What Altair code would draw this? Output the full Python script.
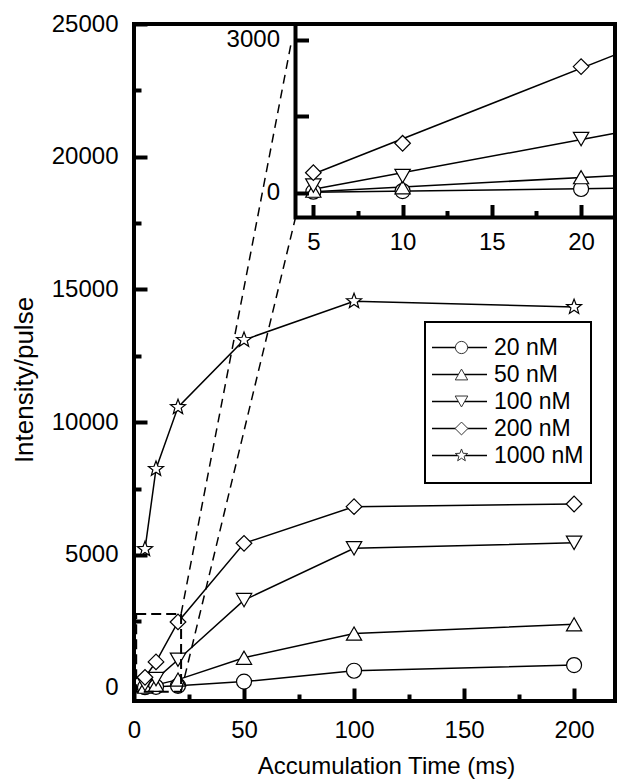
import altair as alt
import pandas as pd

# ---------------- data ----------------
TIMES = [5, 10, 20, 50, 100, 200]
SERIES = ["20 nM", "50 nM", "100 nM", "200 nM", "1000 nM"]
I_20 = [20, 33, 73, 230, 640, 855]
I_50 = [40, 108, 305, 1130, 2040, 2390]
I_100 = [140, 328, 1054, 3300, 5250, 5460]
I_200 = [393, 971, 2477, 5440, 6820, 6920]
I_1000 = [5220, 8240, 10570, 13100, 14560, 14340]

INSET_TIMES = [5, 10, 20]
INSET_SERIES = ["20 nM", "50 nM", "100 nM", "200 nM"]
FIT_X = [5, 21.9]
FIT_20 = [8, 86]
FIT_50 = [20, 334]
FIT_100 = [66, 1168]
FIT_200 = [367, 2707]

ZOOM_X = [1, 21.4]
ZOOM_Y = [-150, 2780]
LINK_TOP_X = [21.4, 71.7]
LINK_TOP_Y = [2780, 24400]
LINK_BOT_X = [21.4, 73.4]
LINK_BOT_Y = [-150, 17710]

MAIN_X_TICKS = [0, 50, 100, 150, 200]
MAIN_X_MINOR = [25, 75, 125, 175]
MAIN_Y_TICKS = [0, 5000, 10000, 15000, 20000, 25000]
MAIN_Y_MINOR = [2500, 7500, 12500, 17500, 22500]
INSET_X_TICKS = [5, 10, 15, 20]
INSET_X_MINOR = [7.5, 12.5, 17.5]
INSET_Y_LABELS = [0, 3000]
INSET_Y_TICKS = [0, 1500, 3000]

MAIN_X_DOMAIN = [0, 218.6]
MAIN_Y_DOMAIN = [-500, 25000]
INSET_X_DOMAIN = [4, 21.9]
INSET_Y_DOMAIN = [-487, 3314]

# ---------------- layout / style ----------------
W, H = 481, 677
INSET_X_RANGE = [161.5, 481]
INSET_Y_RANGE = [193.5, 0]
FONT = "Liberation Sans"

# legend box geometry (pixels inside the plot area)
LEG_BOX = (291, 457, 298, 459)
LEG_ROWS = [323.5, 431.5]
LEG_LINE = (298, 353)
LEG_MARK_X = 327.5
LEG_TEXT_X = 360


def star_path(cx, r, inner=0.42):
    import math
    pts = []
    for k in range(10):
        ang = math.radians(-90 + 36 * k)
        rr = r if k % 2 == 0 else r * inner
        pts.append((cx + rr * math.cos(ang), rr * math.sin(ang)))
    return "M" + "L".join(f"{x:.3f},{y:.3f}" for x, y in pts) + "Z"


STAR = star_path(0, 1.0)
PLOT_SHAPES = ["circle", "triangle-up", "triangle-down", "diamond", STAR]
PLOT_SIZES = [225, 250, 250, 340, 270]
LEG_SIZES = [150, 170, 170, 200, 190]

# ---------------- tables ----------------
main_vals = [I_20, I_50, I_100, I_200, I_1000]
main_df = pd.DataFrame(
    [{"s": s, "t": t, "v": v} for s, vals in zip(SERIES, main_vals) for t, v in zip(TIMES, vals)]
)
inset_df = main_df[main_df["s"].isin(INSET_SERIES) & main_df["t"].isin(INSET_TIMES)]
fit_vals = [FIT_20, FIT_50, FIT_100, FIT_200]
fit_df = pd.DataFrame(
    [{"s": s, "t": t, "v": v} for s, vals in zip(INSET_SERIES, fit_vals) for t, v in zip(FIT_X, vals)]
)
link_df = pd.DataFrame(
    [{"id": "top", "t": x, "v": y} for x, y in zip(LINK_TOP_X, LINK_TOP_Y)]
    + [{"id": "bot", "t": x, "v": y} for x, y in zip(LINK_BOT_X, LINK_BOT_Y)]
)
zoom_df = pd.DataFrame([{"x": ZOOM_X[0], "x2": ZOOM_X[1], "y": ZOOM_Y[0], "y2": ZOOM_Y[1]}])
frame_df = pd.DataFrame([{"x": MAIN_X_DOMAIN[0], "x2": MAIN_X_DOMAIN[1],
                          "y": MAIN_Y_DOMAIN[0], "y2": MAIN_Y_DOMAIN[1]}])
box_df = pd.DataFrame([{"x": INSET_X_DOMAIN[0], "x2": INSET_X_DOMAIN[1],
                        "y": INSET_Y_DOMAIN[0], "y2": INSET_Y_DOMAIN[1]}])
leg_df = pd.DataFrame({"s": SERIES})

mx = alt.Scale(domain=MAIN_X_DOMAIN, nice=False, zero=False)
my = alt.Scale(domain=MAIN_Y_DOMAIN, nice=False, zero=False)
ix = alt.Scale(domain=INSET_X_DOMAIN, range=INSET_X_RANGE, nice=False, zero=False)
iy = alt.Scale(domain=INSET_Y_DOMAIN, range=INSET_Y_RANGE, nice=False, zero=False)
ly = alt.Scale(type="point", domain=SERIES, range=LEG_ROWS, padding=0)


def tick_axis(orient, offset, values, size, z=0):
    return alt.Axis(orient=orient, offset=offset, values=values, labels=False, domain=False,
                    grid=False, ticks=True, tickSize=size, tickWidth=4, tickColor="black",
                    title=None, zindex=z)


def label_axis(orient, offset, values, pad, **kw):
    base = dict(orient=orient, offset=offset, values=values, ticks=False, tickSize=0,
                domain=False, grid=False, labelPadding=pad, labelFlush=False,
                labelOverlap=False, format="d", labelFontSize=24, labelFont=FONT,
                labelColor="black")
    if orient in ("bottom", "top"):
        base["labelBaseline"] = "alphabetic"
    base.update(kw)
    if "title" not in base:
        base["title"] = None
    return alt.Axis(**base)


shape_enc = alt.Shape("s:N", scale=alt.Scale(domain=SERIES, range=PLOT_SHAPES), legend=None)
size_enc = alt.Size("s:N", scale=alt.Scale(domain=SERIES, range=PLOT_SIZES), legend=None)

lines = alt.Chart(main_df).mark_line(color="black", strokeWidth=1.5).encode(
    x=alt.X("t:Q", scale=mx, axis=label_axis(
        "bottom", 0, MAIN_X_TICKS, 36, title="Accumulation Time (ms)", titleFontSize=24,
        titleFont=FONT, titleFontWeight="normal", titleColor="black", titleX=252, titleY=72,
        titleBaseline="alphabetic", titleAlign="center")),
    y=alt.Y("v:Q", scale=my, axis=label_axis(
        "left", 0, MAIN_Y_TICKS, 16, title="Intensity/pulse", titleFontSize=26, titleFont=FONT,
        titleFontWeight="normal", titleColor="black", titleAngle=270, titleX=-102, titleY=355.5,
        titleBaseline="alphabetic", titleAlign="center")),
    detail="s:N",
)

points = alt.Chart(main_df).mark_point(filled=True, fill="white", stroke="black",
                                       strokeWidth=1.2, opacity=1).encode(
    x=alt.X("t:Q", scale=mx, axis=tick_axis("top", -H, MAIN_X_TICKS, 13)),
    y=alt.Y("v:Q", scale=my, axis=tick_axis("right", -W, MAIN_Y_TICKS, 13)),
    shape=shape_enc, size=size_enc,
)

links = alt.Chart(link_df).mark_line(color="black", strokeWidth=1.5, strokeDash=[9, 6]).encode(
    x=alt.X("t:Q", scale=mx, axis=tick_axis("top", -H, MAIN_X_MINOR, 7)),
    y=alt.Y("v:Q", scale=my, axis=tick_axis("right", -W, MAIN_Y_MINOR, 7)),
    detail="id:N",
)

zoom = alt.Chart(zoom_df).mark_rect(fillOpacity=0, stroke="black", strokeWidth=2,
                                    strokeDash=[10, 5]).encode(
    x=alt.X("x:Q", scale=mx, axis=None), x2="x2:Q",
    y=alt.Y("y:Q", scale=my, axis=None), y2="y2:Q",
)

frame = alt.Chart(frame_df).mark_rect(fillOpacity=0, stroke="black", strokeWidth=4).encode(
    x=alt.X("x:Q", scale=mx, axis=None), x2="x2:Q",
    y=alt.Y("y:Q", scale=my, axis=None), y2="y2:Q",
)

box = alt.Chart(box_df).mark_rect(fill="white", stroke="black", strokeWidth=4).encode(
    x=alt.X("x:Q", scale=ix, axis=label_axis("bottom", INSET_Y_RANGE[0] - H, INSET_X_TICKS, 31.5)),
    x2="x2:Q",
    y=alt.Y("y:Q", scale=iy, axis=label_axis("left", -INSET_X_RANGE[0], INSET_Y_LABELS, 16)),
    y2="y2:Q",
)

fits = alt.Chart(fit_df).mark_line(color="black", strokeWidth=1.5).encode(
    x=alt.X("t:Q", scale=ix, axis=tick_axis("top", -INSET_Y_RANGE[0], INSET_X_TICKS, 13, 1)),
    y=alt.Y("v:Q", scale=iy, axis=tick_axis("right", INSET_X_RANGE[0] - W, INSET_Y_TICKS, 13, 1)),
    detail="s:N",
)

inset_pts = alt.Chart(inset_df).mark_point(filled=True, fill="white", stroke="black",
                                           strokeWidth=1.2, opacity=1).encode(
    x=alt.X("t:Q", scale=ix, axis=tick_axis("top", -INSET_Y_RANGE[0], INSET_X_MINOR, 7, 1)),
    y=alt.Y("v:Q", scale=iy, axis=None),
    shape=shape_enc, size=size_enc,
)

# ---- hand-built legend ----
leg_box = alt.Chart(leg_df.head(1)).mark_rect(fill="white", stroke="black", strokeWidth=2).encode(
    x=alt.value(LEG_BOX[0]), x2=alt.value(LEG_BOX[1]),
    y=alt.value(LEG_BOX[2]), y2=alt.value(LEG_BOX[3]),
)
leg_lines = alt.Chart(leg_df).mark_rule(color="black", strokeWidth=1.3).encode(
    y=alt.Y("s:N", scale=ly, axis=None),
    x=alt.value(LEG_LINE[0]), x2=alt.value(LEG_LINE[1]),
)
leg_marks = alt.Chart(leg_df).mark_point(filled=True, fill="white", stroke="#333333",
                                         strokeWidth=1, opacity=1).encode(
    y=alt.Y("s:N", scale=ly, axis=None),
    x=alt.value(LEG_MARK_X),
    shape=shape_enc,
    size=alt.Size("s:N", scale=alt.Scale(domain=SERIES, range=LEG_SIZES), legend=None),
)
leg_text = alt.Chart(leg_df).mark_text(align="left", baseline="middle", fontSize=23,
                                       font=FONT, color="black").encode(
    y=alt.Y("s:N", scale=ly, axis=None),
    x=alt.value(LEG_TEXT_X),
    text="s:N",
)

chart = alt.layer(lines, points, links, zoom, frame, box, fits, inset_pts,
                  leg_box, leg_lines, leg_marks, leg_text).resolve_scale(
    x="independent", y="independent", shape="independent", size="independent"
).resolve_axis(x="independent", y="independent").properties(
    width=W, height=H,
    autosize=alt.AutoSizeParams(type="none"),
    padding={"left": 126, "top": 16, "right": 17, "bottom": 80},
).configure_view(stroke=None).configure(font=FONT)

chart.save("out.html", embed_options={"renderer": "svg", "actions": False})
